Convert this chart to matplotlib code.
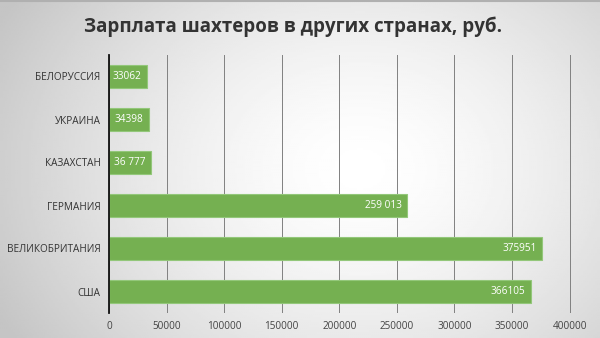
import numpy as np
import matplotlib.pyplot as plt

countries = ['БЕЛОРУССИЯ', 'УКРАИНА', 'КАЗАХСТАН', 'ГЕРМАНИЯ', 'ВЕЛИКОБРИТАНИЯ', 'США']
salaries = [33062, 34398, 36777, 259013, 375951, 366105]
value_labels = ['33062', '34398', '36 777', '259 013', '375951', '366105']
xticks = [0, 50000, 100000, 150000, 200000, 250000, 300000, 350000, 400000]

plt.rcParams['font.family'] = ['Open Sans', 'DejaVu Sans']

fig = plt.figure(figsize=(6, 3.38), dpi=100)

# grey-to-white background, lighter in the middle, darker to the left
bg = fig.add_axes([0, 0, 1, 1], zorder=-10)
yy, xx = np.mgrid[-1:1:200j, -1:1:300j]
r = np.sqrt(((xx - 0.2) / 1.2) ** 2 + (yy / 1.7) ** 2)
shade = np.clip(1.0 - 0.19 * r ** 1.5, 0.77, 1.0)
bg.imshow(shade, cmap='gray', vmin=0, vmax=1, aspect='auto', extent=[0, 1, 0, 1])
bg.axhline(0.996, color='#b0b0b0', linewidth=1.5)
bg.set_xlim(0, 1)
bg.set_ylim(0, 1)
bg.axis('off')

ax = fig.add_axes([109 / 600, 1 - 313 / 338, 471 / 600, 258 / 338])
ax.patch.set_alpha(0)

y = np.arange(len(countries))[::-1]
ax.barh(y, salaries, height=0.55, color='#75b051', edgecolor='#93c77a', linewidth=0.8, zorder=3)

for yi, v, lab in zip(y, salaries, value_labels):
    ax.annotate(lab, (v, yi), xytext=(-4, 0), textcoords='offset points',
                ha='right', va='center', color='white', fontsize=7.2, zorder=4)

ax.set_xlim(0, 409000)
ax.set_ylim(-0.5, len(countries) - 0.5)
ax.set_xticks(xticks)
ax.set_xticklabels([str(t) for t in xticks], fontsize=7.2, color='#444444')
ax.set_yticks(y)
ax.set_yticklabels(countries, fontsize=7.2, color='#333333')
ax.tick_params(length=0, pad=6)
ax.grid(axis='x', color='#808080', linewidth=0.7, zorder=1)
for s in ['top', 'right', 'bottom']:
    ax.spines[s].set_visible(False)
ax.spines['left'].set_color('#111111')
ax.spines['left'].set_linewidth(1.3)
ax.spines['left'].set_zorder(5)

fig.text(293 / 600, 1 - 27 / 338, 'Зарплата шахтеров в других странах, руб.', ha='center', va='center',
         fontsize=13.5, fontweight='bold', color='#333333')

fig.savefig('out.png', dpi=100)
